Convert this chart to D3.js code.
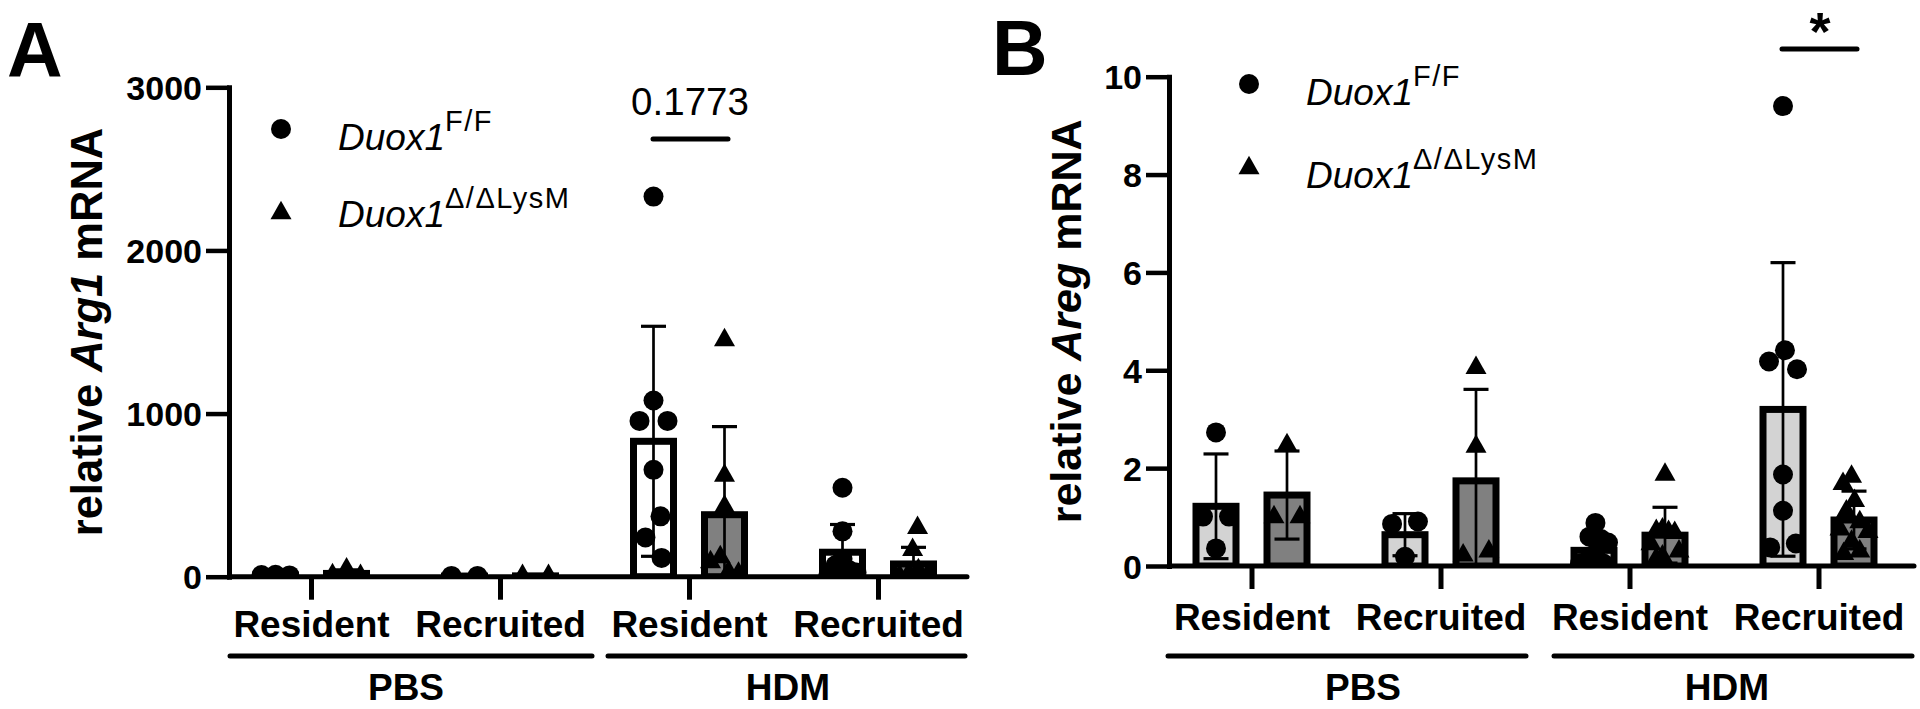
<!DOCTYPE html>
<html><head><meta charset="utf-8">
<script src="https://cdn.jsdelivr.net/npm/d3@7"></script>
<style>
html,body{margin:0;padding:0;background:#fff;}
svg{display:block;font-family:"Liberation Sans",Arial,Helvetica,sans-serif;}
</style>
</head><body>
<svg id="chart" width="1920" height="709"></svg>
<script>
// ---------------- DATA ----------------
const categories = ["Resident", "Recruited", "Resident", "Recruited"];
const groups = ["PBS", "HDM"];
const seriesBase = ["Duox1", "Duox1"];
const seriesSup = ["F/F", "\u0394/\u0394LysM"];

// Panel A: relative Arg1 mRNA
const arg1Ticks = [0, 1000, 2000, 3000];
const arg1WtMean = [10, 4, 830, 150];
const arg1WtSD = [3, 1, 705, 170];
const arg1KoMean = [20, 5, 380, 78];
const arg1KoSD = [22, 2, 540, 102];
const arg1WtPoints = [
  [12, 8, 10],
  [5, 5],
  [2330, 1080, 955, 955, 655, 370, 240, 115],
  [545, 278, 110, 70, 40, 25, 15]
];
const arg1KoPoints = [
  [45, 10, 5],
  [6, 6],
  [1450, 620, 430, 120, 90, 30, 20],
  [300, 165, 40, 20, 10, 5]
];
const arg1Sig = "0.1773";

// Panel B: relative Areg mRNA
const aregTicks = [0, 2, 4, 6, 8, 10];
const aregWtMean = [1.22, 0.64, 0.32, 3.2];
const aregWtSD = [1.07, 0.43, 0.25, 3.0];
const aregKoMean = [1.45, 1.74, 0.63, 0.94];
const aregKoSD = [0.9, 1.87, 0.57, 0.59];
const aregWtPoints = [
  [2.73, 1.01, 1.01, 0.36],
  [0.91, 0.86, 0.19],
  [0.88, 0.6, 0.55, 0.48, 0.25, 0.1, 0.05, 0.05],
  [9.4, 4.41, 4.18, 4.02, 1.87, 1.13, 0.38, 0.46]
];
const aregKoPoints = [
  [2.47, 1.0, 1.0],
  [4.05, 2.44, 0.22, 0.3],
  [1.87, 0.75, 0.72, 0.7, 0.68, 0.45, 0.3, 0.2, 0.15],
  [1.83, 1.68, 1.33, 1.12, 0.9, 0.75, 0.7, 0.5, 0.3, 0.25]
];
const aregSig = "*";

// ---------------- LAYOUT ----------------
const svg = d3.select("#chart");
const FONT = '"Liberation Sans",Arial,Helvetica,sans-serif';

const panels = [
  {
    letter: "A", letterX: 7, letterY: 77,
    gene: "Arg1",
    ticks: arg1Ticks, wtMean: arg1WtMean, wtSD: arg1WtSD, koMean: arg1KoMean, koSD: arg1KoSD,
    wtPts: arg1WtPoints, koPts: arg1KoPoints,
    axisX: 229, xEnd: 967, y0: 576.7, yTop: 87.3,
    catFirst: 311, catLast: 878,
    catPad: 11,
    ylabelX: 102, ylabelSize: 43.5,
    wtFill: "#ffffff", koFill: "#808080",
    legX: 281, legY: [129, 212], legText: 338, legBase: [150, 227],
    groupLines: [[230, 592], [608, 965]], groupLabelX: [406, 788],
    sig: arg1Sig, sigBold: false, sigSize: 38.5, sigX: 690, sigY: 115, sigLine: [653, 728, 139]
  },
  {
    letter: "B", letterX: 992, letterY: 75,
    gene: "Areg",
    ticks: aregTicks, wtMean: aregWtMean, wtSD: aregWtSD, koMean: aregKoMean, koSD: aregKoSD,
    wtPts: aregWtPoints, koPts: aregKoPoints,
    axisX: 1169, xEnd: 1914, y0: 566, yTop: 76.7,
    catFirst: 1251.5, catLast: 1818.5,
    catPad: 14.7,
    ylabelX: 1081, ylabelSize: 43,
    wtFill: "#d3d3d3", koFill: "#808080",
    legX: 1249, legY: [84, 167], legText: 1306, legBase: [105, 188],
    groupLines: [[1168, 1526], [1554, 1912]], groupLabelX: [1363, 1727],
    sig: aregSig, sigBold: true, sigSize: 54, sigX: 1820, sigY: 50, sigLine: [1782, 1857, 49]
  }
];

const BAR_OFF = 35.5, BAR_W = 40, BAR_STROKE = 7;
const CAP_W = 25;
const R = 10;
const triPath = "M0,-12.3L10.5,6.2L-10.5,6.2Z";

function swarm(values, y, D, maxHalf) {
  const pts = values.map((v, i) => ({ v, py: y(v), x: 0, i }));
  const order = pts.slice().sort((a, b) => b.v - a.v);
  const placed = [];
  for (const p of order) {
    const ints = [];
    for (const q of placed) {
      const dy = Math.abs(p.py - q.py);
      if (dy < D) { const w = Math.sqrt(D * D - dy * dy); ints.push([q.x - w, q.x + w]); }
    }
    const cands = [0];
    ints.forEach(([a, b]) => cands.push(a, b));
    cands.sort((a, b) => (Math.abs(a) - Math.abs(b)) || (a - b));
    let best = 0;
    for (const c of cands) {
      if (ints.every(([a, b]) => c <= a + 1e-6 || c >= b - 1e-6)) { best = c; break; }
    }
    p.x = best; placed.push(p);
  }
  const parent = pts.map((_, i) => i);
  const find = i => parent[i] === i ? i : (parent[i] = find(parent[i]));
  for (let i = 0; i < pts.length; i++) for (let j = i + 1; j < pts.length; j++) {
    if (Math.abs(pts[i].py - pts[j].py) < D) parent[find(i)] = find(j);
  }
  const clusters = d3.group(pts, p => find(p.i));
  clusters.forEach(list => {
    const mn = d3.min(list, p => p.x), mx = d3.max(list, p => p.x);
    const shift = -(mn + mx) / 2, half = (mx - mn) / 2;
    const k = half > maxHalf ? maxHalf / half : 1;
    list.forEach(p => { p.x = (p.x + shift) * k; });
  });
  return pts;
}

panels.forEach((P, pi) => {
  const g = svg.append("g");
  const x = d3.scalePoint().domain(d3.range(categories.length)).range([P.catFirst, P.catLast]);
  const y = d3.scaleLinear().domain([0, d3.max(P.ticks)]).range([P.y0, P.yTop]).clamp(true);

  const clipId = "clip" + pi, clipBarId = "clipbar" + pi;
  const defs = svg.append("defs");
  defs.append("clipPath").attr("id", clipId).append("rect")
    .attr("x", P.axisX).attr("y", -50).attr("width", P.xEnd - P.axisX + 10).attr("height", P.y0 + 50);
  defs.append("clipPath").attr("id", clipBarId).append("rect")
    .attr("x", P.axisX).attr("y", -50).attr("width", P.xEnd - P.axisX + 10).attr("height", P.y0 + 52);

  g.append("text").attr("x", P.letterX).attr("y", P.letterY)
    .attr("font-size", 77).attr("font-weight", "bold").text(P.letter);

  const series = [
    { mean: P.wtMean, sd: P.wtSD, pts: P.wtPts, off: -BAR_OFF, fill: P.wtFill, shape: "circle" },
    { mean: P.koMean, sd: P.koSD, pts: P.koPts, off: BAR_OFF, fill: P.koFill, shape: "tri" }
  ];
  const barG = g.append("g").attr("clip-path", `url(#${clipBarId})`);
  series.forEach(s => {
    barG.selectAll(null).data(s.mean).enter().append("rect")
      .attr("x", (d, i) => x(i) + s.off - BAR_W / 2)
      .attr("y", d => y(d))
      .attr("width", BAR_W)
      .attr("height", d => P.y0 - y(d))
      .attr("fill", s.fill).attr("stroke", "#000").attr("stroke-width", BAR_STROKE);
  });

  const ptG = g.append("g").attr("clip-path", `url(#${clipId})`);
  series.forEach(s => {
    s.pts.forEach((vals, i) => {
      const sw = swarm(vals, y, 26, 14);
      sw.forEach(p => {
        const cx = x(i) + s.off + p.x, cy = p.py;
        if (s.shape === "circle") {
          ptG.append("circle").attr("cx", cx).attr("cy", cy).attr("r", R).attr("fill", "#000");
        } else {
          ptG.append("path").attr("d", triPath).attr("transform", `translate(${cx},${cy})`).attr("fill", "#000");
        }
      });
    });
  });

  const errG = g.append("g").attr("stroke", "#000").attr("fill", "none");
  series.forEach(s => {
    s.mean.forEach((m, i) => {
      const cx = x(i) + s.off;
      const yt = y(m + s.sd[i]), yb = y(Math.max(0, m - s.sd[i]));
      errG.append("line").attr("x1", cx).attr("x2", cx).attr("y1", yt).attr("y2", yb).attr("stroke-width", 2.7);
      errG.append("line").attr("x1", cx - CAP_W / 2).attr("x2", cx + CAP_W / 2).attr("y1", yt).attr("y2", yt).attr("stroke-width", 3.2);
      if (m - s.sd[i] > 0)
        errG.append("line").attr("x1", cx - CAP_W / 2).attr("x2", cx + CAP_W / 2).attr("y1", yb).attr("y2", yb).attr("stroke-width", 3.2);
    });
  });

  const yAxis = d3.axisLeft(y).tickValues(P.ticks).tickSize(23).tickSizeOuter(0).tickPadding(4)
    .tickFormat(d3.format("d"));
  const ya = g.append("g").attr("transform", `translate(${P.axisX},0)`).call(yAxis);
  ya.select(".domain").attr("stroke", "#000").attr("stroke-width", 5).attr("stroke-linecap", "square");
  ya.selectAll(".tick line").attr("stroke", "#000").attr("stroke-width", 4.5);
  ya.selectAll(".tick text").attr("font-family", FONT).attr("font-size", 34).attr("font-weight", "bold")
    .attr("fill", "#000").attr("dy", "0.36em");

  const xAxis = d3.axisBottom(x).tickSize(23).tickSizeOuter(0).tickPadding(P.catPad)
    .tickFormat(i => categories[i]);
  const xa = g.append("g").attr("transform", `translate(0,${P.y0})`).call(xAxis);
  xa.select(".domain").remove();
  xa.selectAll(".tick line").attr("stroke", "#000").attr("stroke-width", 5);
  xa.selectAll(".tick text").attr("font-family", FONT).attr("font-size", 37).attr("font-weight", "bold").attr("fill", "#000");
  g.append("line").attr("x1", P.axisX).attr("x2", P.xEnd).attr("y1", P.y0).attr("y2", P.y0)
    .attr("stroke", "#000").attr("stroke-width", 5).attr("stroke-linecap", "round");

  groups.forEach((gr, k) => {
    const [a, b] = P.groupLines[k];
    g.append("line").attr("x1", a).attr("x2", b).attr("y1", 656).attr("y2", 656)
      .attr("stroke", "#000").attr("stroke-width", 5).attr("stroke-linecap", "round");
    g.append("text").attr("x", P.groupLabelX[k]).attr("y", 700).attr("text-anchor", "middle")
      .attr("font-size", 37).attr("font-weight", "bold").text(gr);
  });

  const cy = (P.y0 + P.yTop) / 2;
  const yl = g.append("text").attr("transform", `translate(${P.ylabelX},${cy}) rotate(-90)`)
    .attr("text-anchor", "middle").attr("font-size", P.ylabelSize).attr("font-weight", "bold");
  yl.append("tspan").text("relative ");
  yl.append("tspan").attr("font-style", "italic").text(P.gene);
  yl.append("tspan").text(" mRNA");

  [0, 1].forEach(k => {
    if (k === 0) g.append("circle").attr("cx", P.legX).attr("cy", P.legY[k]).attr("r", R).attr("fill", "#000");
    else g.append("path").attr("d", triPath).attr("transform", `translate(${P.legX},${P.legY[k] + 1})`).attr("fill", "#000");
    const t = g.append("text").attr("x", P.legText).attr("y", P.legBase[k]).attr("font-size", 37);
    t.append("tspan").attr("font-style", "italic").text(seriesBase[k]);
    t.append("tspan").attr("dy", -19).attr("font-size", 29).attr("letter-spacing", 1.5).text(seriesSup[k]);
  });

  g.append("text").attr("x", P.sigX).attr("y", P.sigY).attr("text-anchor", "middle")
    .attr("font-size", P.sigSize).attr("font-weight", P.sigBold ? "bold" : "normal").text(P.sig);
  g.append("line").attr("x1", P.sigLine[0]).attr("x2", P.sigLine[1]).attr("y1", P.sigLine[2]).attr("y2", P.sigLine[2])
    .attr("stroke", "#000").attr("stroke-width", 5).attr("stroke-linecap", "round");
});
</script>
</body></html>
